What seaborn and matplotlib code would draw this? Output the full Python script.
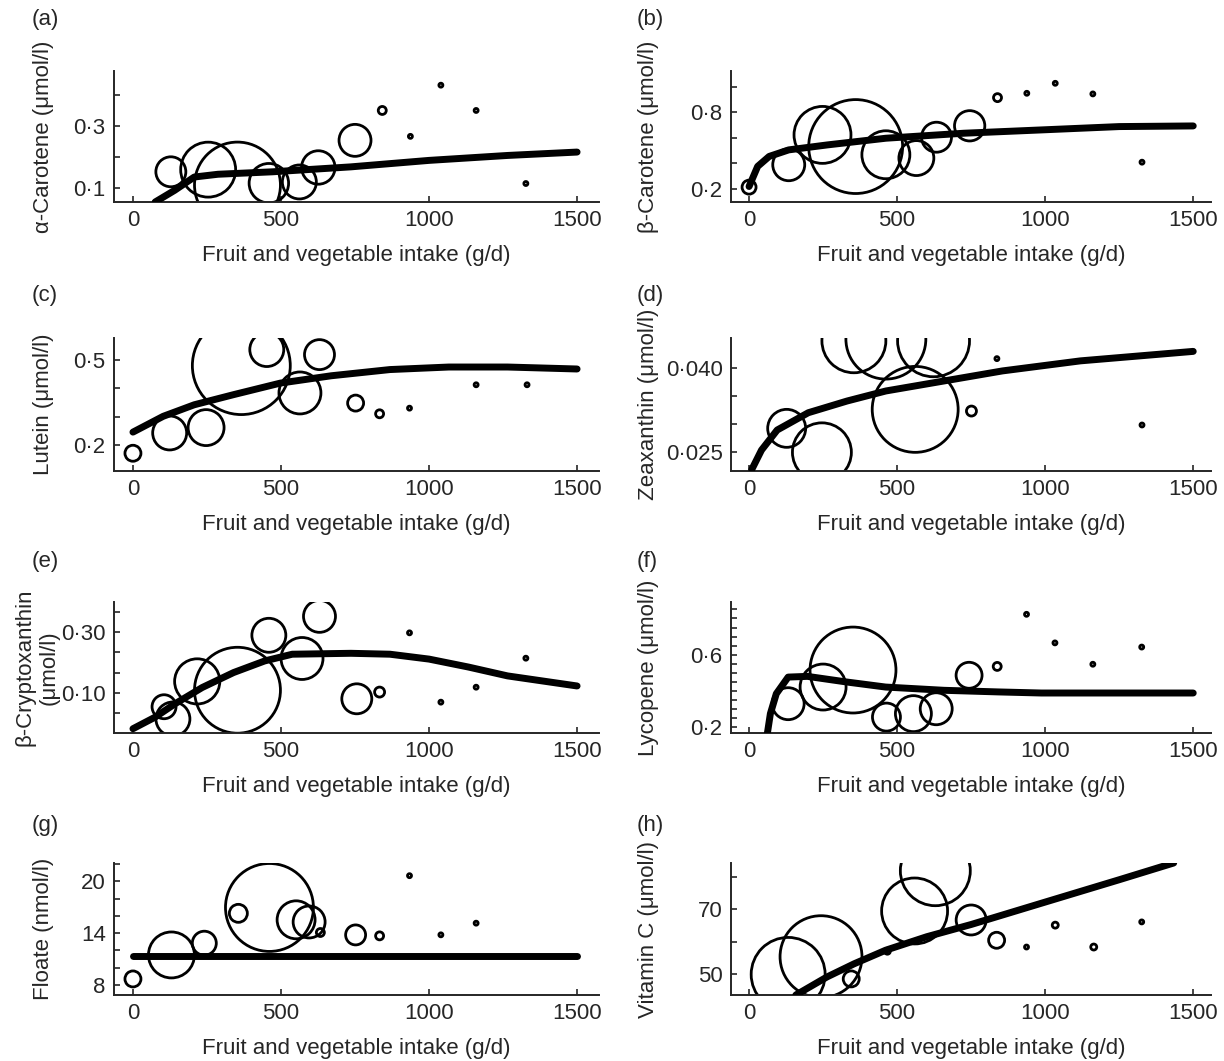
import numpy as np
import pandas as pd
import matplotlib
matplotlib.use("Agg")
import matplotlib.pyplot as plt
import seaborn as sns

sns.set_style("ticks")
plt.rcParams['font.family'] = ['Liberation Sans', 'DejaVu Sans']

x_title = "Fruit and vegetable intake (g/d)"
x_ticks = [0, 500, 1000, 1500]

# (a) alpha-carotene: group means (bubble weight ~ group size) and fitted curve
a_x = [128, 254, 353, 459, 562, 626, 750, 842, 937, 1040, 1159, 1327]
a_y = [0.152, 0.159, 0.109, 0.115, 0.119, 0.166, 0.254, 0.351, 0.267, 0.433, 0.351, 0.114]
a_w = [225, 756, 1849, 390, 289, 280, 256, 16, 4, 4, 4, 4]
a_fx = [75, 141, 207, 287, 472, 736, 1000, 1265, 1500]
a_fy = [0.054, 0.092, 0.135, 0.144, 0.152, 0.168, 0.189, 0.205, 0.216]

# (b) beta-carotene
b_x = [0, 134, 248, 360, 462, 565, 633, 745, 839, 938, 1034, 1161, 1327]
b_y = [0.215, 0.39, 0.623, 0.532, 0.468, 0.442, 0.605, 0.694, 0.914, 0.948, 1.026, 0.943, 0.41]
b_w = [49, 256, 812, 2209, 576, 306, 225, 230, 16, 4, 4, 4, 4]
b_fx = [0, 29, 68, 134, 265, 462, 725, 988, 1250, 1500]
b_fy = [0.22, 0.377, 0.455, 0.506, 0.545, 0.597, 0.636, 0.662, 0.688, 0.693]

# (c) lutein
c_x = [0, 124, 247, 366, 452, 564, 630, 752, 833, 934, 1159, 1331]
c_y = [0.170, 0.242, 0.261, 0.481, 0.538, 0.384, 0.520, 0.348, 0.310, 0.330, 0.413, 0.413]
c_w = [64, 289, 324, 2401, 289, 441, 225, 64, 16, 4, 4, 4]
c_fx = [0, 102, 207, 340, 498, 670, 868, 1067, 1265, 1500]
c_fy = [0.245, 0.301, 0.342, 0.378, 0.419, 0.445, 0.467, 0.476, 0.476, 0.469]

# (d) zeaxanthin
d_x = [127, 246, 354, 462, 561, 623, 751, 837, 1327]
d_y = [0.0292, 0.0249, 0.0449, 0.0452, 0.0326, 0.0449, 0.0323, 0.0417, 0.0298]
d_w = [361, 870, 1024, 1600, 1849, 1296, 25, 4, 4]
d_fx = [9, 42, 95, 200, 331, 462, 659, 856, 1119, 1500]
d_fy = [0.0218, 0.0253, 0.0289, 0.0320, 0.0341, 0.0359, 0.0377, 0.0395, 0.0413, 0.0430]

# (e) beta-cryptoxanthin
e_x = [105, 135, 217, 353, 459, 571, 630, 756, 833, 934, 1040, 1159, 1327]
e_y = [0.055, 0.015, 0.138, 0.109, 0.289, 0.213, 0.351, 0.081, 0.103, 0.297, 0.070, 0.119, 0.214]
e_w = [144, 289, 511, 1849, 289, 441, 256, 225, 25, 4, 4, 4, 4]
e_fx = [0, 75, 141, 234, 340, 445, 538, 736, 868, 1000, 1133, 1265, 1500]
e_fy = [-0.017, 0.021, 0.064, 0.118, 0.167, 0.205, 0.227, 0.230, 0.227, 0.211, 0.185, 0.156, 0.123]

# (f) lycopene
f_x = [132, 250, 351, 464, 555, 632, 743, 838, 937, 1033, 1161, 1326]
f_y = [0.329, 0.421, 0.515, 0.255, 0.274, 0.301, 0.486, 0.535, 0.823, 0.665, 0.547, 0.642]
f_w = [256, 529, 1849, 196, 324, 256, 169, 16, 4, 4, 4, 4]
f_fx = [62, 72, 92, 132, 197, 329, 461, 658, 842, 987, 1500]
f_fy = [0.167, 0.274, 0.384, 0.476, 0.480, 0.449, 0.421, 0.403, 0.394, 0.388, 0.388]

# (g) folate
g_x = [0, 130, 241, 356, 461, 551, 595, 633, 752, 833, 934, 1040, 1159]
g_y = [8.70, 11.48, 12.84, 16.3, 16.98, 15.55, 15.3, 14.08, 13.8, 13.69, 20.66, 13.81, 15.16]
g_w = [64, 529, 144, 81, 1936, 361, 256, 16, 100, 16, 4, 4, 4]
g_fx = [0, 500, 1000, 1500]
g_fy = [11.37, 11.37, 11.37, 11.37]

# (h) vitamin C
h_x = [132, 243, 345, 467, 559, 629, 750, 836, 937, 1034, 1164, 1326]
h_y = [49.8, 55.3, 48.4, 57.0, 69.5, 82.0, 66.7, 60.4, 58.3, 65.1, 58.3, 66.1]
h_w = [1369, 1681, 64, 9, 1089, 1225, 225, 64, 4, 9, 9, 4]
h_fx = [158, 263, 355, 461, 600, 750, 987, 1250, 1434]
h_fy = [43.4, 49.0, 53.1, 57.3, 61.5, 65.3, 71.9, 79.2, 84.4]

y_titles = ["\u03b1-Carotene (\u03bcmol/l)", "\u03b2-Carotene (\u03bcmol/l)",
            "Lutein (\u03bcmol/l)", "Zeaxanthin (\u03bcmol/l)",
            "\u03b2-Cryptoxanthin\n(\u03bcmol/l)", "Lycopene (\u03bcmol/l)",
            "Floate (nmol/l)", "Vitamin C (\u03bcmol/l)"]
y_limits = [(0.054, 0.479), (0.099, 1.122), (0.107, 0.579), (0.02155, 0.0454),
            (-0.031, 0.398), (0.167, 0.891), (6.84, 22.13), (43.4, 84.4)]
y_ticks = [[0.1, 0.2, 0.3, 0.4], [0.2, 0.4, 0.6, 0.8, 1.0], [0.2, 0.3, 0.4, 0.5],
           [0.025, 0.030, 0.035, 0.040],
           [0.0333, 0.1, 0.1667, 0.2333, 0.3, 0.3667],
           [0.2, 0.25, 0.3, 0.35, 0.4, 0.45, 0.5, 0.55, 0.6, 0.65, 0.7, 0.75, 0.8, 0.85],
           [8, 10, 12, 14, 16, 18, 20, 22], [50, 60, 70, 80]]
y_ticklabels = [["0\u00b71", "", "0\u00b73", ""], ["0\u00b72", "", "", "0\u00b78", ""],
                ["0\u00b72", "", "", "0\u00b75"], ["0\u00b7025", "", "", "0\u00b7040"],
                ["", "0\u00b710", "", "", "0\u00b730", ""],
                ["0\u00b72", "", "", "", "", "", "", "", "0\u00b76", "", "", "", "", ""],
                ["8", "", "", "14", "", "", "20", ""], ["50", "", "70", ""]]
panel_tags = ["(a)", "(b)", "(c)", "(d)", "(e)", "(f)", "(g)", "(h)"]

points = [(a_x, a_y, a_w), (b_x, b_y, b_w), (c_x, c_y, c_w), (d_x, d_y, d_w),
          (e_x, e_y, e_w), (f_x, f_y, f_w), (g_x, g_y, g_w), (h_x, h_y, h_w)]
fits = [(a_fx, a_fy), (b_fx, b_fy), (c_fx, c_fy), (d_fx, d_fy),
        (e_fx, e_fy), (f_fx, f_fy), (g_fx, g_fy), (h_fx, h_fy)]

W, H = 1224, 1061
fig = plt.figure(figsize=(W / 100, H / 100), dpi=100)

# column: (left px, right px, xlim, ylabel right edge px, tag x px)
cols = [(114, 599, (-64, 1574), 54, 32), (731, 1211, (-61, 1560), 659, 637)]
# row: (top px, bottom px, tag y px)
rows = [(71, 202, 19), (338, 471, 295), (602, 733, 562), (863, 995, 825)]

FS = 16
wmax = 2500
for i in range(8):
    left, right, xlim, lab_x, tag_x = cols[i % 2]
    top, bottom, tag_y = rows[i // 2]
    ax = fig.add_axes([left / W, 1 - bottom / H, (right - left) / W, (bottom - top) / H])

    px, py, pw = points[i]
    df = pd.DataFrame({"x": px, "y": py, "w": pw})
    sns.scatterplot(data=df, x="x", y="y", size="w", sizes=(0, 2.07 * wmax),
                    size_norm=(0, wmax), facecolor="none", edgecolor="black",
                    linewidth=2.0, legend=False, ax=ax, zorder=2)
    fx, fy = fits[i]
    sns.lineplot(x=fx, y=fy, color="black", linewidth=5, estimator=None,
                 solid_capstyle="round", ax=ax, zorder=3)

    ax.set_xlim(*xlim)
    ax.set_ylim(*y_limits[i])
    ax.set_xticks(x_ticks)
    ax.set_xticklabels([str(t) for t in x_ticks])
    ax.set_yticks(y_ticks[i])
    ax.set_yticklabels(y_ticklabels[i])
    ax.tick_params(direction="in", length=4, width=1.2, labelsize=FS, pad=6)
    sns.despine(ax=ax)
    for s in ["left", "bottom"]:
        ax.spines[s].set_linewidth(1.4)

    ax.set_xlabel(x_title, fontsize=FS, labelpad=10)
    ax.set_ylabel(y_titles[i], fontsize=FS)
    lx = 60 if i == 4 else lab_x
    ax.yaxis.set_label_coords((lx - left) / (right - left), 0.5)

    fig.text(tag_x / W, 1 - tag_y / H, panel_tags[i], fontsize=FS, ha="left", va="center")

fig.savefig("out.png", dpi=100)
